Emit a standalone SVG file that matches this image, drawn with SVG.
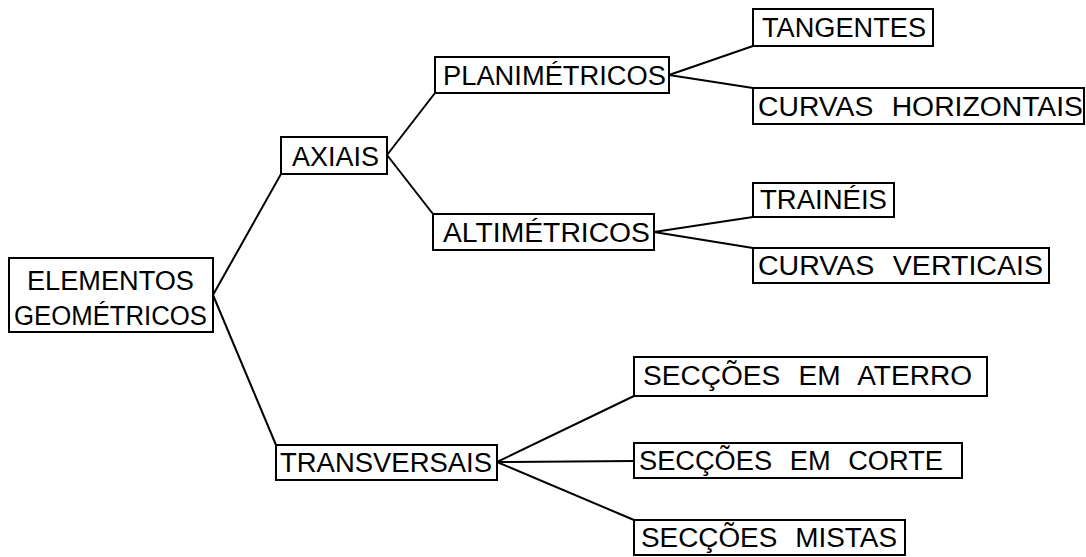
<svg xmlns="http://www.w3.org/2000/svg" width="1086" height="557" viewBox="0 0 1086 557">
<style>
.box{fill:none;stroke:#000;stroke-width:2}
.ln{fill:none;stroke:#000;stroke-width:2}
text{font-family:"Liberation Sans",Arial,sans-serif;font-size:27px;fill:#000}
.ws{word-spacing:10px}
</style>
<rect width="1086" height="557" fill="#fff"/>
<g id="connectors">
<line class="ln" x1="213" y1="295" x2="281" y2="174"/>
<line class="ln" x1="213" y1="295" x2="276" y2="445"/>
<line class="ln" x1="387" y1="155" x2="435" y2="93"/>
<line class="ln" x1="387" y1="155" x2="433" y2="214"/>
<line class="ln" x1="669" y1="75" x2="753" y2="46"/>
<line class="ln" x1="669" y1="75" x2="753" y2="88"/>
<line class="ln" x1="654" y1="232" x2="753" y2="217"/>
<line class="ln" x1="654" y1="232" x2="753" y2="248"/>
<line class="ln" x1="497" y1="462" x2="634" y2="396"/>
<line class="ln" x1="497" y1="462" x2="634" y2="461"/>
<line class="ln" x1="497" y1="462" x2="634" y2="520"/>
</g>
<g id="n-elementos">
<rect class="box" x="9" y="258" width="204" height="74"/>
<text x="27" y="290" textLength="167" lengthAdjust="spacingAndGlyphs">ELEMENTOS</text>
<text x="14" y="325" textLength="193" lengthAdjust="spacingAndGlyphs">GEOMÉTRICOS</text>
</g>
<g id="n-axiais">
<rect class="box" x="281" y="137" width="106" height="37"/>
<text x="292" y="166" textLength="87" lengthAdjust="spacingAndGlyphs">AXIAIS</text>
</g>
<g id="n-planimetricos">
<rect class="box" x="435" y="57" width="234" height="36"/>
<text x="443" y="85" textLength="223" lengthAdjust="spacingAndGlyphs">PLANIMÉTRICOS</text>
</g>
<g id="n-altimetricos">
<rect class="box" x="433" y="214" width="221" height="36"/>
<text x="443" y="242" textLength="207" lengthAdjust="spacingAndGlyphs">ALTIMÉTRICOS</text>
</g>
<g id="n-tangentes">
<rect class="box" x="753" y="9" width="180" height="37"/>
<text x="762" y="37" textLength="164" lengthAdjust="spacingAndGlyphs">TANGENTES</text>
</g>
<g id="n-curvas-horizontais">
<rect class="box" x="753" y="88" width="331" height="36"/>
<text class="ws" x="758" y="116" textLength="325" lengthAdjust="spacingAndGlyphs">CURVAS HORIZONTAIS</text>
</g>
<g id="n-traineis">
<rect class="box" x="753" y="183" width="141" height="34"/>
<text x="760" y="209" textLength="127" lengthAdjust="spacingAndGlyphs">TRAINÉIS</text>
</g>
<g id="n-curvas-verticais">
<rect class="box" x="753" y="248" width="296" height="35"/>
<text class="ws" x="758" y="275" textLength="285" lengthAdjust="spacingAndGlyphs">CURVAS VERTICAIS</text>
</g>
<g id="n-transversais">
<rect class="box" x="276" y="445" width="221" height="35"/>
<text x="280" y="472" textLength="212" lengthAdjust="spacingAndGlyphs">TRANSVERSAIS</text>
</g>
<g id="n-aterro">
<rect class="box" x="634" y="357" width="353" height="39"/>
<text class="ws" x="643" y="385" textLength="329" lengthAdjust="spacingAndGlyphs">SECÇÕES EM ATERRO</text>
</g>
<g id="n-corte">
<rect class="box" x="634" y="443" width="328" height="35"/>
<text class="ws" x="639" y="470" textLength="304" lengthAdjust="spacingAndGlyphs">SECÇÕES EM CORTE</text>
</g>
<g id="n-mistas">
<rect class="box" x="634" y="520" width="271" height="35"/>
<text class="ws" x="641" y="547" textLength="256" lengthAdjust="spacingAndGlyphs">SECÇÕES MISTAS</text>
</g>
</svg>
